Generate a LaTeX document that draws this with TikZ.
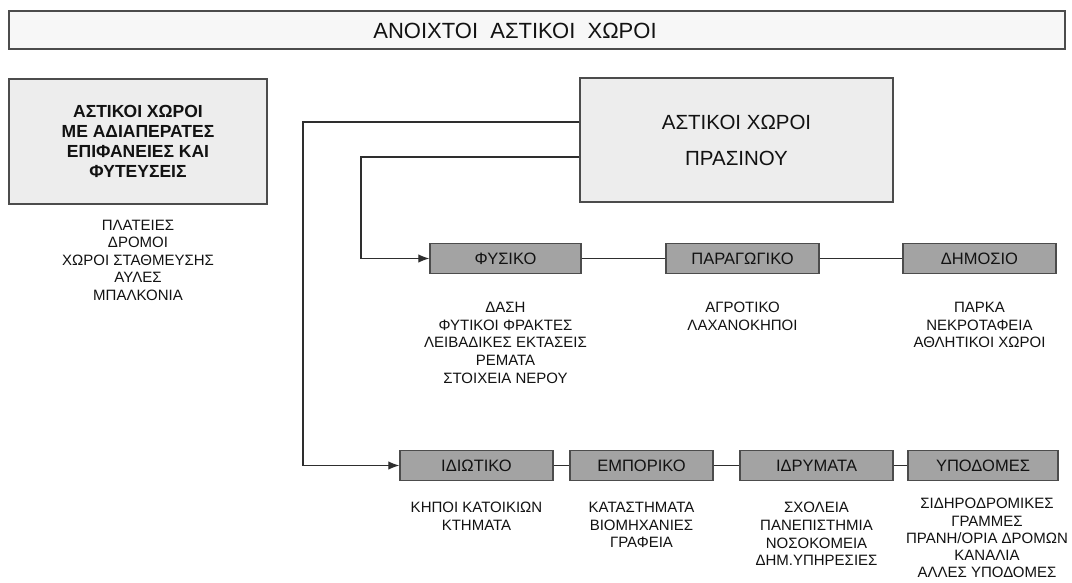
\documentclass[tikz,border=0pt]{standalone}
\usepackage{fontspec}
\setmainfont{Liberation Sans}
\usetikzlibrary{positioning,arrows.meta}

\begin{document}
\begin{tikzpicture}[x=1pt,y=1pt,
  lightbox/.style={draw=frameColor,line width=1.3pt,fill=paleColor,inner sep=0pt,text=textColor},
  greybox/.style={draw=frameColor,line width=1.3pt,fill=boxColor,minimum height=30pt,inner sep=0pt,text=textColor,font=\fontsize{16.5}{18}\selectfont},
  itemlist/.style={anchor=north,align=center,inner sep=0pt,text=textColor,font=\fontsize{15}{17.6}\selectfont},
  link/.style={draw=lineColor,line width=1.2pt},
  feed/.style={link,-{Latex[length=11pt,width=8.5pt]}}]
\definecolor[named]{fillColor}{rgb}{1.00,1.00,1.00}
\definecolor[named]{textColor}{rgb}{0.07,0.07,0.07}
\definecolor[named]{frameColor}{rgb}{0.30,0.30,0.30}
\definecolor[named]{paleColor}{rgb}{0.93,0.93,0.93}
\definecolor[named]{bannerColor}{rgb}{0.97,0.97,0.97}
\definecolor[named]{boxColor}{rgb}{0.64,0.64,0.64}
\definecolor[named]{lineColor}{rgb}{0.18,0.18,0.18}
\path[use as bounding box,fill=fillColor] (0,0) rectangle (1072,582);

% banner
\node[lightbox,fill=bannerColor,minimum width=1056pt,minimum height=38pt] (banner) at (537,552) {};
\node[text=textColor,font=\fontsize{22}{24}\selectfont] (bannertext) at (515,551) {ΑΝΟΙΧΤΟΙ\ \ ΑΣΤΙΚΟΙ\ \ ΧΩΡΟΙ};

% paved spaces
\node[lightbox,minimum width=258pt,minimum height=125pt,align=center,font=\bfseries\fontsize{17.5}{20}\selectfont] (paved) at (138,440.5) {ΑΣΤΙΚΟΙ ΧΩΡΟΙ\\ΜΕ ΑΔΙΑΠΕΡΑΤΕΣ\\ΕΠΙΦΑΝΕΙΕΣ ΚΑΙ\\ΦΥΤΕΥΣΕΙΣ};
\node[itemlist,below=15pt of paved] (pavedlist) {ΠΛΑΤΕΙΕΣ\\ΔΡΟΜΟΙ\\ΧΩΡΟΙ ΣΤΑΘΜΕΥΣΗΣ\\ΑΥΛΕΣ\\ΜΠΑΛΚΟΝΙΑ};

% green spaces
\node[lightbox,minimum width=313pt,minimum height=124pt,align=center,font=\fontsize{20.5}{36}\selectfont] (green) at (736.5,442) {ΑΣΤΙΚΟΙ ΧΩΡΟΙ\\ΠΡΑΣΙΝΟΥ};

% first row
\node[greybox,minimum width=151pt] (fysiko) at (505.5,323.5) {ΦΥΣΙΚΟ};
\node[greybox,minimum width=153pt] (paragogiko) at (742.5,323.5) {ΠΑΡΑΓΩΓΙΚΟ};
\node[greybox,minimum width=153pt] (dimosio) at (979.5,323.5) {ΔΗΜΟΣΙΟ};

\node[itemlist,below=28pt of fysiko] (fysikolist) {ΔΑΣΗ\\ΦΥΤΙΚΟΙ ΦΡΑΚΤΕΣ\\ΛΕΙΒΑΔΙΚΕΣ ΕΚΤΑΣΕΙΣ\\ΡΕΜΑΤΑ\\ΣΤΟΙΧΕΙΑ ΝΕΡΟΥ};
\node[itemlist,below=28pt of paragogiko] (paragogikolist) {ΑΓΡΟΤΙΚΟ\\ΛΑΧΑΝΟΚΗΠΟΙ};
\node[itemlist,below=28pt of dimosio] (dimosiolist) {ΠΑΡΚΑ\\ΝΕΚΡΟΤΑΦΕΙΑ\\ΑΘΛΗΤΙΚΟΙ ΧΩΡΟΙ};

% second row
\node[greybox,minimum width=153pt] (idiotiko) at (476.5,116.5) {ΙΔΙΩΤΙΚΟ};
\node[greybox,minimum width=143pt] (emporiko) at (641.5,116.5) {ΕΜΠΟΡΙΚΟ};
\node[greybox,minimum width=153pt] (idrymata) at (816.5,116.5) {ΙΔΡΥΜΑΤΑ};
\node[greybox,minimum width=150pt] (ypodomes) at (983,116.5) {ΥΠΟΔΟΜΕΣ};

\node[itemlist,below=21pt of idiotiko] (idiotikolist) {ΚΗΠΟΙ ΚΑΤΟΙΚΙΩΝ\\ΚΤΗΜΑΤΑ};
\node[itemlist,below=21pt of emporiko] (emporikolist) {ΚΑΤΑΣΤΗΜΑΤΑ\\ΒΙΟΜΗΧΑΝΙΕΣ\\ΓΡΑΦΕΙΑ};
\node[itemlist,below=21pt of idrymata] (idrymatalist) {ΣΧΟΛΕΙΑ\\ΠΑΝΕΠΙΣΤΗΜΙΑ\\ΝΟΣΟΚΟΜΕΙΑ\\ΔΗΜ.ΥΠΗΡΕΣΙΕΣ};
\node[itemlist,below=17pt of ypodomes,xshift=4pt,font=\fontsize{15}{17.2}\selectfont] (ypodomeslist) {ΣΙΔΗΡΟΔΡΟΜΙΚΕΣ\\ΓΡΑΜΜΕΣ\\ΠΡΑΝΗ/ΟΡΙΑ ΔΡΟΜΩΝ\\ΚΑΝΑΛΙΑ\\ΑΛΛΕΣ ΥΠΟΔΟΜΕΣ};

% connectors
\coordinate (outerrail) at (303,460);
\coordinate (innerrail) at (361,425);
\draw[feed] ([yshift=18pt]green.west) -- (outerrail) |- (idiotiko);
\draw[feed] ([yshift=-17pt]green.west) -- (innerrail) |- (fysiko);
\draw[link] (fysiko) -- (paragogiko) -- (dimosio);
\draw[link] (idiotiko) -- (emporiko) -- (idrymata) -- (ypodomes);
\end{tikzpicture}
\end{document}
